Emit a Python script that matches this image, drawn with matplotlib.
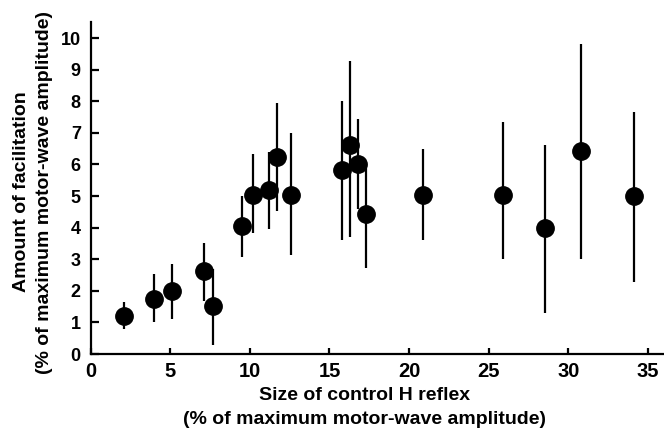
import matplotlib
matplotlib.use("Agg")
import matplotlib.pyplot as plt
import numpy as np

plt.rcParams['font.family'] = ['Liberation Sans', 'DejaVu Sans']
plt.rcParams['font.weight'] = 'bold'

# control H reflex size (% of max M wave)
h_reflex = [2.1, 4.0, 5.1, 7.1, 7.7, 9.5, 10.2, 11.2, 11.7, 12.6,
            15.8, 16.3, 16.8, 17.3, 20.9, 25.9, 28.5, 30.8, 34.1]
# facilitation (% of max M wave)
facil = [1.2, 1.75, 2.0, 2.63, 1.53, 4.05, 5.04, 5.2, 6.25, 5.02,
         5.83, 6.6, 6.02, 4.42, 5.03, 5.03, 4.0, 6.41, 5.0]
err_top = [1.66, 2.53, 2.85, 3.5, 2.69, 5.0, 6.32, 6.4, 7.93, 7.0,
           8.0, 9.28, 7.45, 6.0, 6.5, 7.34, 6.6, 9.81, 7.67]
err_bottom = [0.79, 1.0, 1.1, 1.69, 0.29, 3.06, 3.83, 3.96, 4.52, 3.12,
              3.61, 3.7, 4.6, 2.71, 3.61, 3.0, 1.3, 3.0, 2.29]

xticks = [0, 5, 10, 15, 20, 25, 30, 35]
yticks = list(range(11))


def main():
    fig = plt.figure(figsize=(6.64, 4.30), dpi=100)
    ax = fig.add_axes([0.1363, 0.1767, 0.8637, 0.7716])

    x = np.array(h_reflex)
    y = np.array(facil)
    yerr = [y - np.array(err_bottom), np.array(err_top) - y]
    ax.errorbar(x, y, yerr=yerr, fmt='o', color='black', ms=12.5,
                elinewidth=1.6, capsize=0)

    ax.set_xlim(0, 36)
    ax.set_ylim(0, 10.5)
    ax.set_xticks(xticks)
    ax.set_yticks(yticks)
    for s in ['top', 'right']:
        ax.spines[s].set_visible(False)
    for s in ['left', 'bottom']:
        ax.spines[s].set_linewidth(1.6)
    ax.tick_params(axis='x', direction='in', length=4.5, width=1.6,
                   labelsize=14.5, pad=6)
    ax.tick_params(axis='y', direction='in', length=5.5, width=1.6,
                   labelsize=13, pad=7)

    ax.set_xlabel('Size of control H reflex\n(% of maximum motor-wave amplitude)',
                  fontsize=14, fontweight='bold', linespacing=1.5)
    ax.set_ylabel('Amount of facilitation\n(% of maximum motor-wave amplitude)',
                  fontsize=14, fontweight='bold', linespacing=1.4)
    ax.xaxis.set_label_coords(0.478, -0.1)
    ax.yaxis.set_label_coords(-0.066, 0.488)

    fig.savefig('out.png', dpi=100)


if __name__ == '__main__':
    main()
